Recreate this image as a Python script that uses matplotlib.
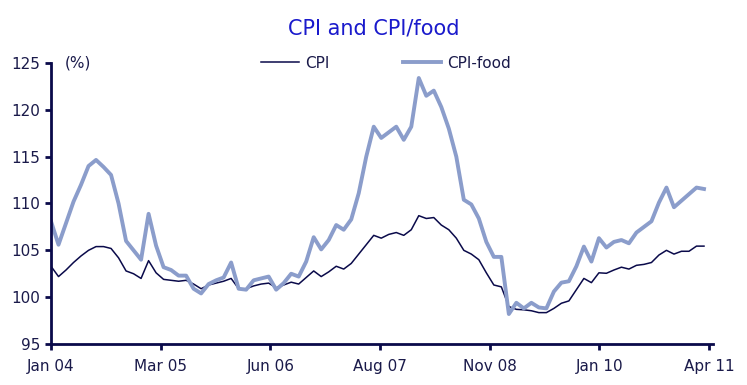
import numpy as np
import matplotlib
matplotlib.use('Agg')
import matplotlib.pyplot as plt

# monthly series, Jan 04 .. Apr 11
cpi = [103.3, 102.2, 102.9, 103.7, 104.4, 105.0, 105.4, 105.4, 105.2, 104.2,
       102.8, 102.5, 102.0, 103.9, 102.6, 101.9, 101.8, 101.7, 101.8, 101.4,
       100.9, 101.3, 101.5, 101.7, 102.0, 100.9, 100.9, 101.2, 101.4, 101.5,
       101.0, 101.3, 101.6, 101.4, 102.1, 102.8, 102.2, 102.7, 103.3, 103.0,
       103.6, 104.6, 105.6, 106.6, 106.3, 106.7, 106.9, 106.6, 107.2, 108.7,
       108.4, 108.5, 107.7, 107.2, 106.3, 105.0, 104.6, 104.0, 102.6, 101.3,
       101.1, 99.0, 98.7, 98.65, 98.55, 98.35, 98.35, 98.8, 99.35, 99.6,
       100.8, 102.0, 101.55, 102.6, 102.55, 102.9, 103.2, 103.0, 103.4, 103.5,
       103.7, 104.5, 105.0, 104.6, 104.9, 104.9, 105.45, 105.45]

cpi_food = [108.1, 105.6, 107.9, 110.2, 112.0, 114.0, 114.65, 113.9, 113.05, 110.0,
            106.0, 105.0, 104.0, 108.9, 105.5, 103.2, 102.9, 102.3, 102.3, 100.9,
            100.4, 101.4, 101.8, 102.1, 103.7, 100.9, 100.8, 101.8, 102.0, 102.2,
            100.8, 101.5, 102.5, 102.2, 103.8, 106.4, 105.1, 106.1, 107.7, 107.2,
            108.3, 111.1, 115.0, 118.2, 117.0, 117.6, 118.2, 116.8, 118.2, 123.4,
            121.5, 122.05, 120.3, 118.0, 115.0, 110.4, 109.9, 108.4, 105.9, 104.3,
            104.3, 98.2, 99.4, 98.8, 99.4, 98.9, 98.8, 100.6, 101.55, 101.7,
            103.3, 105.4, 103.8, 106.3, 105.3, 105.9, 106.1, 105.75, 106.9, 107.5,
            108.1, 110.1, 111.7, 109.6, 110.3, 111.0, 111.7, 111.55]

tick_labels = ['Jan 04', 'Mar 05', 'Jun 06', 'Aug 07', 'Nov 08', 'Jan 10', 'Apr 11']
y_ticks = [95, 100, 105, 110, 115, 120, 125]

navy = '#0a0a4a'
light = '#8b9dcb'
txt = '#1a1a4a'

months = np.arange(len(cpi))

fig = plt.figure(figsize=(7.47, 3.85), dpi=100)
ax = fig.add_axes([51 / 747, 41 / 385, 662 / 747, 281 / 385])

ax.plot(months, cpi, color=navy, linewidth=1.1, label='CPI')
ax.plot(months, cpi_food, color=light, linewidth=2.8, label='CPI-food')

ax.set_xlim(0, 88.2)
ax.set_ylim(95, 125)
span = 87.66
ax.set_xticks([i * span / 6 for i in range(7)])
ax.set_xticklabels(tick_labels)
ax.set_yticks(y_ticks)

for s in ['top', 'right']:
    ax.spines[s].set_visible(False)
for s in ['left', 'bottom']:
    ax.spines[s].set_color(navy)
    ax.spines[s].set_linewidth(2.0)
ax.tick_params(axis='both', colors=navy, width=2.0, length=4, labelsize=11,
               labelcolor=txt, direction='out')
ax.tick_params(axis='x', pad=7)
ax.tick_params(axis='y', pad=4)

ax.text(0.021, 1.0, '(%)', transform=ax.transAxes, ha='left', va='center',
        fontsize=11, color=txt)

ax.legend(loc='center', bbox_to_anchor=(0.506, 1.0), ncol=2, frameon=False,
          fontsize=11, handlelength=2.5, handletextpad=0.4, columnspacing=4.8,
          borderpad=0, labelcolor=txt)

fig.text(374 / 747, 1 - 28 / 385, 'CPI and CPI/food', ha='center', va='center',
         fontsize=15, color='#1a1acc')

fig.savefig('out.png', dpi=100)
